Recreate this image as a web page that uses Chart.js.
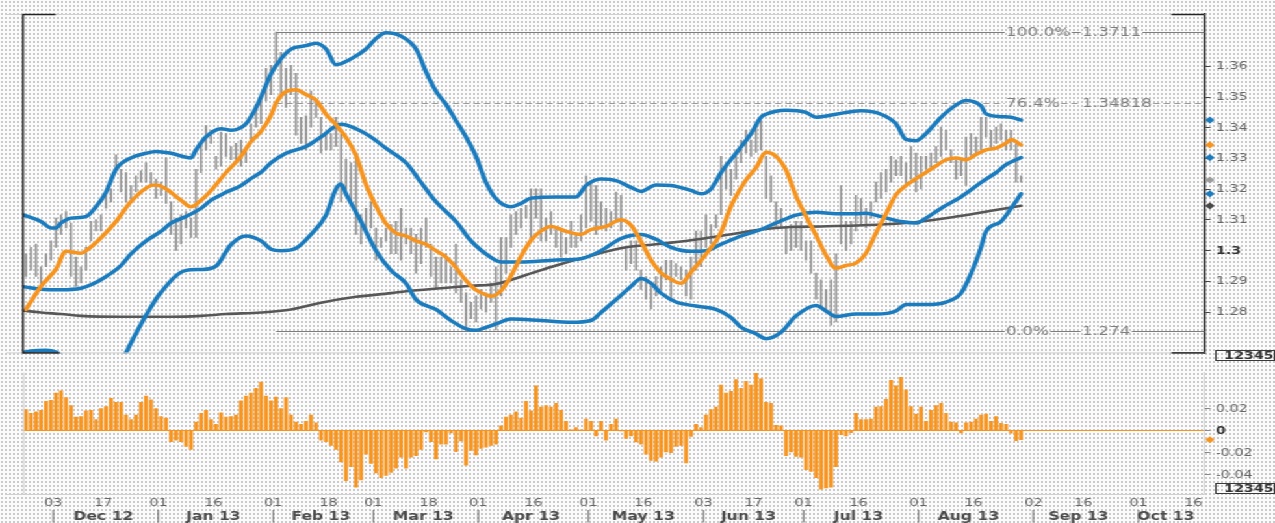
<!DOCTYPE html>
<html>
<head>
<meta charset="utf-8">
<script src="https://cdn.jsdelivr.net/npm/chart.js@4.4.0/dist/chart.umd.min.js"></script>
<style>
  html, body { margin: 0; padding: 0; }
  body {
    width: 1275px; height: 523px; overflow: hidden;
    background-color: #fbfbfb;
    background-image: radial-gradient(circle, #cbcbcb 0.75px, transparent 1.1px);
    background-size: 4px 4px;
  }
  /* the reference is a stretched screenshot, so draw at 981px and stretch */
  #stage { position: absolute; left: 0; top: 0; width: 981px; height: 523px;
           transform: scaleX(1.29969); transform-origin: 0 0; }
  #pricePane { position: absolute; left: 0; top: 0; width: 981px; height: 364px; }
  #macdPane { position: absolute; left: 0; top: 362px; width: 981px; height: 161px; }
</style>
</head>
<body>
<div id="stage">
  <div id="pricePane"><canvas id="priceChart"></canvas></div>
  <div id="macdPane"><canvas id="macdChart"></canvas></div>
</div>
<script>
// EUR/USD daily bars, late Nov 2012 - end Aug 2013
// x = trading day number, 0 = Mon 03 Dec 2012
const firstDay = -6;

const barHigh = [
  1.2990, 1.3011, 1.3022, 1.2948, 1.2990, 1.3032,
  1.3106, 1.3117, 1.3127, 1.3090, 1.2979, 1.2948, 1.3011, 1.3096, 1.3101, 1.3117,
  1.3180, 1.3201, 1.3312, 1.3265, 1.3254, 1.3212, 1.3244, 1.3260, 1.3286, 1.3254,
  1.3233, 1.3223, 1.3302, 1.3159, 1.3106, 1.3117, 1.3127, 1.3106, 1.3265, 1.3349,
  1.3407, 1.3392, 1.3307, 1.3386, 1.3381, 1.3339, 1.3349, 1.3360, 1.3328, 1.3413,
  1.3476, 1.3508, 1.3593, 1.3603, 1.3711, 1.3645, 1.3593, 1.3603, 1.3577, 1.3434,
  1.3439, 1.3519, 1.3487, 1.3434, 1.3381, 1.3381, 1.3434, 1.3381, 1.3297, 1.3286,
  1.3297, 1.3117, 1.3138, 1.3159, 1.3074, 1.3043, 1.3074, 1.3085, 1.3096, 1.3138,
  1.3074, 1.3074, 1.3053, 1.3074, 1.3106, 1.3022, 1.2979, 1.2979, 1.2990, 1.2948,
  1.3022, 1.2905, 1.2863, 1.2832, 1.2853, 1.2874, 1.2863, 1.2895, 1.2948, 1.3043,
  1.3043, 1.3117, 1.3127, 1.3138, 1.3148, 1.3201, 1.3201, 1.3201, 1.3106, 1.3127,
  1.3074, 1.3074, 1.3043, 1.3096, 1.3053, 1.3117, 1.3244, 1.3223, 1.3212, 1.3159,
  1.3138, 1.3127, 1.3191, 1.3180, 1.3011, 1.3032, 1.3032, 1.2937, 1.2916, 1.2884,
  1.2916, 1.2948, 1.2969, 1.2969, 1.2958, 1.2948, 1.2937, 1.2979, 1.3064, 1.3064,
  1.3117, 1.3085, 1.3117, 1.3307, 1.3286, 1.3265, 1.3328, 1.3360, 1.3392, 1.3360,
  1.3413, 1.3423, 1.3307, 1.3244, 1.3159, 1.3138, 1.3074, 1.3085, 1.3096, 1.3096,
  1.3032, 1.3032, 1.2927, 1.2905, 1.2874, 1.2905, 1.2990, 1.3212, 1.3096, 1.3096,
  1.3180, 1.3170, 1.3138, 1.3159, 1.3223, 1.3254, 1.3265, 1.3307, 1.3296, 1.3307,
  1.3286, 1.3339, 1.3318, 1.3307, 1.3307, 1.3318, 1.3339, 1.3402, 1.3392, 1.3328,
  1.3296, 1.3296, 1.3370, 1.3381, 1.3370, 1.3434, 1.3434, 1.3392, 1.3402, 1.3413,
  1.3392, 1.3392, 1.3349, 1.3244
];
const barLow = [
  1.2916, 1.2937, 1.2916, 1.2884, 1.2948, 1.2969,
  1.3011, 1.3053, 1.3074, 1.2916, 1.2884, 1.2895, 1.2937, 1.3032, 1.3064, 1.3064,
  1.3138, 1.3159, 1.3254, 1.3191, 1.3159, 1.3159, 1.3191, 1.3223, 1.3223, 1.3212,
  1.3170, 1.3180, 1.3154, 1.3053, 1.3001, 1.3022, 1.3074, 1.3043, 1.3043, 1.3254,
  1.3328, 1.3349, 1.3265, 1.3275, 1.3307, 1.3296, 1.3286, 1.3275, 1.3286, 1.3349,
  1.3402, 1.3413, 1.3487, 1.3508, 1.3603, 1.3508, 1.3466, 1.3508, 1.3376, 1.3349,
  1.3328, 1.3402, 1.3434, 1.3318, 1.3328, 1.3328, 1.3339, 1.3159, 1.3201, 1.3159,
  1.3053, 1.3022, 1.3064, 1.3074, 1.2969, 1.3011, 1.3032, 1.2990, 1.2990, 1.2969,
  1.3022, 1.2990, 1.2927, 1.2958, 1.3011, 1.2916, 1.2874, 1.2895, 1.2895, 1.2895,
  1.2863, 1.2832, 1.2747, 1.2779, 1.2768, 1.2811, 1.2800, 1.2832, 1.2742, 1.2853,
  1.2927, 1.3011, 1.3053, 1.3074, 1.3106, 1.3032, 1.3106, 1.3032, 1.3032, 1.3053,
  1.3011, 1.2979, 1.2990, 1.3011, 1.3011, 1.3032, 1.3074, 1.3096, 1.3053, 1.3074,
  1.3064, 1.3074, 1.3096, 1.3064, 1.2937, 1.2958, 1.2937, 1.2874, 1.2842, 1.2811,
  1.2853, 1.2874, 1.2905, 1.2842, 1.2916, 1.2905, 1.2853, 1.2842, 1.2937, 1.2948,
  1.3011, 1.3022, 1.3074, 1.3117, 1.3201, 1.3180, 1.3233, 1.3286, 1.3318, 1.3307,
  1.3320, 1.3328, 1.3170, 1.3159, 1.3074, 1.3074, 1.2990, 1.3001, 1.3011, 1.3001,
  1.2969, 1.2927, 1.2842, 1.2821, 1.2800, 1.2758, 1.2768, 1.3022, 1.3001, 1.3022,
  1.3064, 1.3085, 1.3074, 1.3106, 1.3159, 1.3170, 1.3191, 1.3223, 1.3244, 1.3244,
  1.3212, 1.3233, 1.3191, 1.3201, 1.3265, 1.3265, 1.3286, 1.3307, 1.3328, 1.3286,
  1.3233, 1.3244, 1.3212, 1.3307, 1.3318, 1.3328, 1.3370, 1.3328, 1.3349, 1.3360,
  1.3328, 1.3328, 1.3223, 1.3223
];
const lastClose = 1.3230;

// fast moving average (orange)
const maFastDays = [-6, -3, 0, 2, 5, 6, 9, 12, 15, 19, 20, 22, 25, 27, 29, 31, 34, 37, 39, 41,
  43, 44, 46, 48, 50, 52, 54, 56, 58, 60, 62, 64, 66, 68, 70, 72, 74, 76, 78, 80,
  82, 84, 86, 87, 89, 91, 93, 95, 97, 99, 102, 105, 107, 110, 113, 115, 117, 119, 121, 123,
  125, 127, 130, 133, 135, 138, 140, 142, 144, 146, 148, 150, 152, 154, 156, 158, 160, 162, 164, 166,
  168, 170, 172, 174, 176, 178, 180, 182, 184, 186, 188, 190, 191, 193];
const maFastVals = [1.2809, 1.2884, 1.2940, 1.2998, 1.2992, 1.3000, 1.3042, 1.3095, 1.3160, 1.3212,
  1.3214, 1.3201, 1.3164, 1.3143, 1.3164, 1.3196, 1.3254, 1.3307, 1.3355, 1.3388,
  1.3440, 1.3480, 1.3518, 1.3524, 1.3508, 1.3490, 1.3444, 1.3410, 1.3368, 1.3310,
  1.3215, 1.3145, 1.3088, 1.3057, 1.3048, 1.3032, 1.3021, 1.3000, 1.2979, 1.2945,
  1.2903, 1.2872, 1.2857, 1.2852, 1.2870, 1.2918, 1.2982, 1.3034, 1.3064, 1.3079,
  1.3063, 1.3053, 1.3069, 1.3079, 1.3101, 1.3083, 1.3030, 1.2970, 1.2928, 1.2907,
  1.2894, 1.2930, 1.2989, 1.3060, 1.3145, 1.3230, 1.3270, 1.3320, 1.3307, 1.3262,
  1.3178, 1.3112, 1.3050, 1.2985, 1.2943, 1.2952, 1.2960, 1.2992, 1.3058, 1.3120,
  1.3182, 1.3212, 1.3234, 1.3255, 1.3276, 1.3296, 1.3302, 1.3296, 1.3313, 1.3328,
  1.3334, 1.3350, 1.3362, 1.3344];

// Bollinger bands (blue)
const bbUpperDays = [-7, -3, -1, 0, 1, 3, 6, 8, 10, 12, 15, 18, 20, 23, 27, 28, 30, 33, 35, 38,
  40, 41, 43, 45, 47, 50, 52, 54, 56, 59, 62, 64, 66, 69, 72, 74, 76, 78, 80, 82,
  84, 86, 88, 91, 93, 95, 100, 104, 106, 109, 112, 115, 117, 120, 123, 127, 129, 131, 133, 136,
  139, 141, 142, 146, 150, 152, 156, 161, 165, 168, 170, 172, 174, 177, 180, 182, 185, 186, 189, 191, 193];
const bbUpperVals = [1.3119, 1.3095, 1.3074, 1.3074, 1.3090, 1.3106, 1.3111, 1.3143, 1.3190, 1.3265,
  1.3302, 1.3317, 1.3323, 1.3317, 1.3302, 1.3328, 1.3370, 1.3397, 1.3392, 1.3413,
  1.3465, 1.3500, 1.3575, 1.3624, 1.3656, 1.3667, 1.3675, 1.3656, 1.3605, 1.3624,
  1.3656, 1.3690, 1.3709, 1.3698, 1.3656, 1.3582, 1.3519, 1.3476, 1.3423, 1.3370,
  1.3307, 1.3222, 1.3169, 1.3143, 1.3154, 1.3171, 1.3175, 1.3175, 1.3212, 1.3233,
  1.3228, 1.3206, 1.3193, 1.3214, 1.3212, 1.3196, 1.3185, 1.3201, 1.3254, 1.3317,
  1.3381, 1.3434, 1.3444, 1.3457, 1.3450, 1.3434, 1.3444, 1.3455, 1.3444, 1.3413,
  1.3362, 1.3358, 1.3381, 1.3434, 1.3474, 1.3489, 1.3471, 1.3445, 1.3436, 1.3434, 1.3425];

const bbMidDays = [-7, -3, 1, 5, 7, 10, 13, 15, 18, 21, 23, 26, 29, 31, 34, 37, 39, 41, 43, 46,
  50, 53, 57, 60, 63, 66, 70, 73, 76, 80, 83, 86, 88, 89, 93, 100, 105, 109, 113, 117,
  120, 123, 127, 130, 133, 137, 141, 144, 148, 152, 156, 160, 162, 165, 169, 172, 174, 177, 181, 185,
  188, 190, 193];
const bbMidVals = [1.2884, 1.2875, 1.2873, 1.2878, 1.2889, 1.2916, 1.2952, 1.2990, 1.3032, 1.3063,
  1.3090, 1.3111, 1.3138, 1.3164, 1.3190, 1.3212, 1.3235, 1.3255, 1.3286, 1.3317,
  1.3339, 1.3370, 1.3411, 1.3397, 1.3370, 1.3333, 1.3286, 1.3222, 1.3159, 1.3095,
  1.3032, 1.2989, 1.2968, 1.2963, 1.2963, 1.2970, 1.2974, 1.3000, 1.3040, 1.3053,
  1.3037, 1.3011, 1.2998, 1.3000, 1.3021, 1.3048, 1.3069, 1.3090, 1.3116, 1.3125,
  1.3120, 1.3120, 1.3122, 1.3111, 1.3095, 1.3090, 1.3106, 1.3138, 1.3175, 1.3222,
  1.3254, 1.3280, 1.3303];

const bbLowerDays = [-7, -5, -2, 0, 1, 4, 7, 10, 12, 14, 15, 18, 21, 26, 29, 32, 35, 38, 41, 43,
  45, 48, 51, 54, 56, 57, 58, 61, 64, 67, 70, 72, 76, 79, 82, 84, 86, 88, 91, 97,
  103, 107, 109, 112, 115, 117, 119, 121, 124, 128, 132, 135, 137, 140, 142, 145, 148, 152, 154, 156,
  160, 164, 168, 170, 174, 178, 181, 183, 185, 186, 189, 191, 193];
const bbLowerVals = [1.2668, 1.2674, 1.2676, 1.2670, 1.2660, 1.2620, 1.2595, 1.2600, 1.2625, 1.2668,
  1.2700, 1.2790, 1.2865, 1.2936, 1.2939, 1.2950, 1.3020, 1.3048, 1.3032, 1.3005,
  1.3000, 1.3008, 1.3053, 1.3116, 1.3201, 1.3217, 1.3185, 1.3095, 1.3000, 1.2936,
  1.2894, 1.2841, 1.2809, 1.2773, 1.2746, 1.2741, 1.2751, 1.2762, 1.2778, 1.2773,
  1.2767, 1.2773, 1.2799, 1.2841, 1.2884, 1.2910, 1.2894, 1.2862, 1.2833, 1.2820,
  1.2809, 1.2783, 1.2751, 1.2730, 1.2714, 1.2735, 1.2788, 1.2822, 1.2804, 1.2786,
  1.2794, 1.2794, 1.2804, 1.2825, 1.2825, 1.2833, 1.2862, 1.2926, 1.3011, 1.3063,
  1.3095, 1.3138, 1.3185];

// 200-day moving average (dark grey)
const ma200Days = [-7, -3, 1, 5, 13, 23, 29, 34, 41, 47, 53, 60, 67, 70, 77, 83, 88, 94, 100, 107,
  114, 120, 127, 134, 141, 147, 153, 160, 167, 173, 180, 187, 193];
const ma200Vals = [1.2806, 1.2799, 1.2794, 1.2788, 1.2785, 1.2785, 1.2788, 1.2794, 1.2799, 1.2809,
  1.2831, 1.2850, 1.2862, 1.2868, 1.2878, 1.2886, 1.2892, 1.2921, 1.2952, 1.2984,
  1.3011, 1.3021, 1.3034, 1.3051, 1.3069, 1.3077, 1.3079, 1.3082, 1.3087, 1.3095,
  1.3111, 1.3130, 1.3146];

// MACD histogram, one value per bar from firstDay
const macdHist = [
  0.0194, 0.0160, 0.0174, 0.0188, 0.0268, 0.0279,
  0.0345, 0.0365, 0.0302, 0.0231, 0.0125, 0.0131, 0.0182, 0.0188, 0.0103, 0.0202,
  0.0222, 0.0296, 0.0259, 0.0259, 0.0145, 0.0103, 0.0145, 0.0259, 0.0316, 0.0282,
  0.0202, 0.0131, 0.0117, -0.0097, -0.0083, -0.0097, -0.0140, -0.0168, 0.0080, 0.0160,
  0.0188, 0.0103, 0.0060, 0.0165, 0.0125, 0.0131, 0.0145, 0.0274, 0.0316, 0.0345,
  0.0387, 0.0445, 0.0316, 0.0274, 0.0308, 0.0202, 0.0302, 0.0145, 0.0080, 0.0060,
  0.0088, 0.0145, 0.0074, -0.0083, -0.0097, -0.0131, -0.0168, -0.0282, -0.0453, -0.0325,
  -0.0510, -0.0445, -0.0211, -0.0296, -0.0382, -0.0425, -0.0405, -0.0376, -0.0339, -0.0239,
  -0.0339, -0.0239, -0.0225, -0.0168, -0.0010, -0.0097, -0.0254, -0.0120, -0.0120, -0.0017,
  -0.0188, -0.0091, -0.0311, -0.0177, -0.0217, -0.0160, -0.0148, -0.0131, -0.0120, 0.0046,
  0.0125, 0.0145, 0.0174, 0.0117, 0.0268, 0.0182, 0.0410, 0.0217, 0.0231, 0.0217,
  0.0251, 0.0188, 0.0088, 0.0011, 0.0031, 0.0011, 0.0108, 0.0088, -0.0046, 0.0088,
  -0.0083, 0.0060, 0.0108, 0.0000, -0.0068, -0.0046, -0.0100, -0.0120, -0.0211, -0.0268,
  -0.0274, -0.0239, -0.0191, -0.0197, -0.0140, -0.0131, -0.0291, -0.0050, 0.0060, 0.0031,
  0.0145, 0.0194, 0.0217, 0.0416, 0.0345, 0.0359, 0.0467, 0.0387, 0.0450, 0.0416,
  0.0524, 0.0473, 0.0259, 0.0251, 0.0051, 0.0046, -0.0225, -0.0191, -0.0231, -0.0239,
  -0.0353, -0.0368, -0.0425, -0.0530, -0.0518, -0.0510, -0.0325, -0.0034, -0.0046, -0.0015,
  0.0160, 0.0103, 0.0103, 0.0108, 0.0217, 0.0222, 0.0288, 0.0459, 0.0410, 0.0487,
  0.0373, 0.0222, 0.0154, 0.0217, 0.0088, 0.0188, 0.0231, 0.0251, 0.0160, 0.0080,
  0.0074, -0.0017, 0.0074, 0.0080, 0.0108, 0.0145, 0.0154, 0.0088, 0.0131, 0.0068,
  0.0060, -0.0020, -0.0088, -0.0080
];

// Fibonacci retracement drawn from the 01 Feb high
const fibStartDay = 44;
const fibLevels = [1.3711, 1.34818, 1.274];
const fibPct = ['100.0%', '76.4%', '0.0%'];
const fibVal = ['1.3711', '1.34818', '1.274'];

// axis labels
const priceTicks = [1.28, 1.29, 1.30, 1.31, 1.32, 1.33, 1.34, 1.35, 1.36];
const macdTicks = [0.02, 0, -0.02, -0.04];
const dayTickIdx = [0, 10, 21, 32, 44, 55, 64, 75, 85, 96, 107, 118, 130, 140, 150, 161, 173, 184, 196, 206, 217, 228];
const dayTickText = ['03', '17', '01', '16', '01', '18', '01', '18', '01', '16', '01', '16', '03', '17', '01', '16', '01', '16', '02', '16', '01', '16'];
const monthStartIdx = [0, 21, 44, 64, 85, 107, 130, 150, 173, 196, 217];
const monthMidIdx = [10, 32, 53.5, 74, 95.5, 118, 139, 161, 183, 205, 222.5];
const monthText = ['Dec 12', 'Jan 13', 'Feb 13', 'Mar 13', 'Apr 13', 'May 13', 'Jun 13', 'Jul 13', 'Aug 13', 'Sep 13', 'Oct 13'];

const xMin = -6.6, xMax = 229.6;
const blue = '#1a7cbf', orange = '#f7941e', maGray = '#575757', barGray = '#8a8a8a';
const FONT = '"DejaVu Sans", Verdana, sans-serif';

Chart.defaults.font.family = FONT;
Chart.defaults.font.size = 11;

const last = arr => arr[arr.length - 1];
const pts = (days, vals) => days.map((d, k) => ({ x: d, y: vals[k] }));

function lineSet(label, days, vals, color, width, order) {
  return {
    type: 'line', label, data: pts(days, vals),
    borderColor: color, borderWidth: width, pointRadius: 0,
    cubicInterpolationMode: 'monotone', borderJoinStyle: 'round', borderCapStyle: 'round',
    clip: 0, order
  };
}

function hline(ctx, x1, x2, y) { ctx.beginPath(); ctx.moveTo(x1, y); ctx.lineTo(x2, y); ctx.stroke(); }
function vline(ctx, x, y1, y2) { ctx.beginPath(); ctx.moveTo(x, y1); ctx.lineTo(x, y2); ctx.stroke(); }

function diamond(ctx, x, y, r, color) {
  ctx.fillStyle = color;
  ctx.beginPath();
  ctx.moveTo(x, y - r); ctx.lineTo(x + r, y); ctx.lineTo(x, y + r); ctx.lineTo(x - r, y);
  ctx.closePath(); ctx.fill();
}

function placeholderBox(ctx, x1, y1, x2, y2) {
  ctx.strokeStyle = '#3a3a3a'; ctx.lineWidth = 1;
  ctx.strokeRect(x1 + 0.5, y1 + 0.5, x2 - x1 - 1, y2 - y1 - 1);
  ctx.fillStyle = '#333';
  ctx.font = 'bold 11px ' + FONT;
  ctx.textAlign = 'right'; ctx.textBaseline = 'middle';
  ctx.fillText('12345', x2 - 1, (y1 + y2) / 2 + 0.5);
}

const pricePlugin = {
  id: 'priceDecor',
  beforeDatasetsDraw(chart) {
    const { ctx, chartArea: a, scales: { x, y } } = chart;
    ctx.save();
    ctx.font = '13px ' + FONT;
    ctx.textBaseline = 'middle';
    ctx.textAlign = 'left';
    const x0 = x.getPixelForValue(fibStartDay);
    const xp = x.getPixelForValue(190);
    const xv = x.getPixelForValue(205.2);
    fibLevels.forEach((lv, k) => {
      const py = Math.round(y.getPixelForValue(lv)) + 0.5;
      const pw = ctx.measureText(fibPct[k]).width;
      const vw = ctx.measureText(fibVal[k]).width;
      ctx.lineWidth = 1;
      ctx.strokeStyle = k === 1 ? '#9a9a9a' : '#7d7d7d';
      ctx.setLineDash(k === 1 ? [5, 3] : []);
      [[x0, xp - 1], [xp + pw + 1, xv - 1], [xv + vw + 1, a.right]].forEach(([s, e]) => {
        if (e > s) hline(ctx, s, e, py);
      });
      ctx.setLineDash([]);
      ctx.fillStyle = '#7f7f7f';
      ctx.fillText(fibPct[k], xp, py);
      ctx.fillText(fibVal[k], xv, py);
    });
    ctx.restore();
  },
  afterDraw(chart) {
    const { ctx, chartArea: a, scales: { y } } = chart;
    ctx.save();
    // frame
    ctx.lineWidth = 1;
    ctx.strokeStyle = '#d0d0d0';
    hline(ctx, 5, a.right, a.top + 0.5);
    hline(ctx, 5, a.right, a.bottom - 0.5);
    ctx.strokeStyle = '#222';
    ctx.lineWidth = 1.5;
    vline(ctx, a.left, a.top, a.bottom);
    hline(ctx, a.left, a.left + 25, a.top + 0.5);
    hline(ctx, a.left, a.left + 28, a.bottom - 0.5);
    hline(ctx, a.right - 25, a.right, a.top + 0.5);
    hline(ctx, a.right - 25, a.right, a.bottom - 0.5);
    // last-value markers on the price axis
    const mx = a.right + 4.5;
    [[last(bbUpperVals), blue], [last(maFastVals), orange], [last(bbMidVals), blue],
     [lastClose, '#9c9c9c'], [last(bbLowerVals), blue], [last(ma200Vals), '#484848']]
      .forEach(([v, c]) => diamond(ctx, mx, y.getPixelForValue(v), 3.6, c));
    placeholderBox(ctx, 935, 350, 981, 361);
    ctx.restore();
  }
};

const macdPlugin = {
  id: 'macdDecor',
  afterDraw(chart) {
    const { ctx, chartArea: a, scales: { x, y } } = chart;
    ctx.save();
    ctx.lineWidth = 1;
    ctx.strokeStyle = '#d0d0d0';
    vline(ctx, a.left + 0.5, a.top, a.bottom);
    hline(ctx, 5, a.right, a.bottom + 0.5);
    // month row under the day ticks
    const my = a.bottom + 23;
    ctx.textBaseline = 'middle';
    ctx.textAlign = 'center';
    ctx.fillStyle = '#6a6a6a';
    ctx.font = '12px ' + FONT;
    monthStartIdx.forEach(d => ctx.fillText('|', x.getPixelForValue(d) - 2, my));
    ctx.fillStyle = '#4b4b4b';
    ctx.font = 'bold 12px ' + FONT;
    monthText.forEach((t, k) => ctx.fillText(t, x.getPixelForValue(monthMidIdx[k]) - 2, my));
    diamond(ctx, a.right + 4.5, y.getPixelForValue(last(macdHist)), 3.6, orange);
    placeholderBox(ctx, 935, a.bottom - 11, 981, a.bottom);
    ctx.restore();
  }
};

const boldTick = v => Math.abs(v - 1.3) < 1e-9 || Math.abs(v) < 1e-9;
const tickFont = c => ({ family: FONT, size: 11, weight: c.tick && boldTick(c.tick.value) ? 'bold' : 'normal' });
const tickColor = c => (c.tick && boldTick(c.tick.value) ? '#333' : '#666');

new Chart(document.getElementById('priceChart'), {
  type: 'line',
  data: {
    datasets: [
      {
        type: 'bar', label: 'EUR/USD',
        data: barHigh.map((h, k) => ({ x: firstDay + k, y: [barLow[k], h] })),
        backgroundColor: barGray, barThickness: 0.85, order: 10
      },
      lineSet('200-day MA', ma200Days, ma200Vals, maGray, 2.6, 5),
      lineSet('Bollinger lower', bbLowerDays, bbLowerVals, blue, 3.5, 4),
      lineSet('Bollinger middle', bbMidDays, bbMidVals, blue, 3.5, 3),
      lineSet('Bollinger upper', bbUpperDays, bbUpperVals, blue, 3.5, 2),
      lineSet('Moving average', maFastDays, maFastVals, orange, 3.5, 1)
    ]
  },
  options: {
    responsive: true,
    maintainAspectRatio: false,
    animation: false,
    events: [],
    layout: { padding: { left: 17.7, top: 14, right: 0, bottom: 2 } },
    plugins: { legend: { display: false }, tooltip: { enabled: false } },
    scales: {
      x: { type: 'linear', min: xMin, max: xMax, offset: false, display: false },
      y: {
        position: 'right', min: 1.2666, max: 1.3770,
        afterBuildTicks: s => { s.ticks = priceTicks.map(v => ({ value: v })); },
        afterFit: s => { s.width = 54.6; },
        grid: { drawOnChartArea: false, drawTicks: true, tickLength: 5, tickColor: '#444' },
        border: { display: true, color: '#222', width: 1.5 },
        ticks: { padding: 4, font: tickFont, color: tickColor, callback: v => String(+v.toFixed(2)) }
      }
    }
  },
  plugins: [pricePlugin]
});

new Chart(document.getElementById('macdChart'), {
  type: 'bar',
  data: {
    datasets: [{
      label: 'MACD histogram',
      data: macdHist.map((v, k) => ({ x: firstDay + k, y: v })),
      backgroundColor: orange, barThickness: 2.3
    }]
  },
  options: {
    responsive: true,
    maintainAspectRatio: false,
    animation: false,
    events: [],
    layout: { padding: { left: 17.7, top: 3, right: 0, bottom: 0 } },
    plugins: { legend: { display: false }, tooltip: { enabled: false } },
    scales: {
      x: {
        type: 'linear', min: xMin, max: xMax, offset: false, position: 'bottom',
        afterBuildTicks: s => { s.ticks = dayTickIdx.map(v => ({ value: v })); },
        afterFit: s => { s.height = 29; },
        grid: { display: false, drawTicks: false },
        border: { display: false },
        ticks: {
          autoSkip: false, maxRotation: 0, padding: 3, labelOffset: -2,
          color: '#666', font: { family: FONT, size: 11 },
          callback: (v, k) => dayTickText[k]
        }
      },
      y: {
        position: 'right', min: -0.0573, max: 0.0530,
        afterBuildTicks: s => { s.ticks = macdTicks.map(v => ({ value: v })); },
        afterFit: s => { s.width = 54.6; },
        grid: {
          drawOnChartArea: true, drawTicks: true, tickLength: 5, tickColor: '#888',
          color: c => (c.tick && c.tick.value === 0 ? orange : 'rgba(0,0,0,0)')
        },
        border: { display: true, color: '#cfcfcf', width: 1 },
        ticks: { padding: 4, font: tickFont, color: tickColor, callback: v => String(+v.toFixed(2)) }
      }
    }
  },
  plugins: [macdPlugin]
});
</script>
</body>
</html>
